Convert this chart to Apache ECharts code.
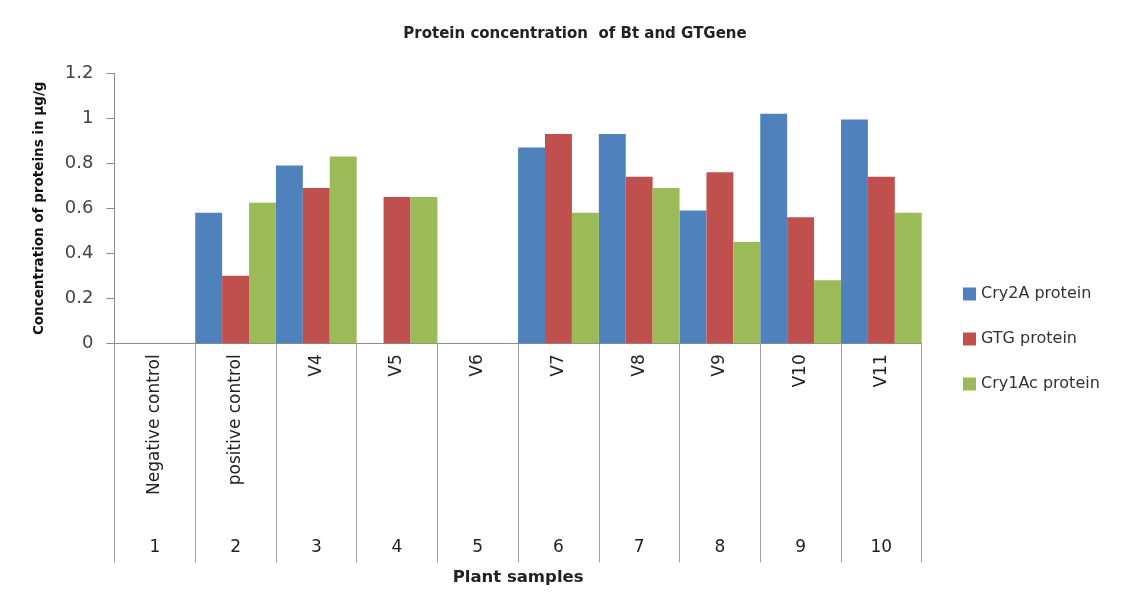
<!DOCTYPE html>
<html>
<head>
<meta charset="utf-8">
<script src="https://cdn.jsdelivr.net/npm/echarts@6/dist/echarts.min.js"></script>
<style>html,body{margin:0;padding:0;background:#fff}#c{width:1126px;height:593px}</style>
</head>
<body>
<div id="c"></div>
<script>
const categories = ['Negative control', 'positive control', 'V4', 'V5', 'V6', 'V7', 'V8', 'V9', 'V10', 'V11'];
const sampleNumbers = ['1', '2', '3', '4', '5', '6', '7', '8', '9', '10'];
const cry2A = [null, 0.58, 0.79, null, null, 0.87, 0.93, 0.59, 1.02, 0.995];
const gtg = [null, 0.30, 0.69, 0.65, null, 0.93, 0.74, 0.76, 0.56, 0.74];
const cry1Ac = [null, 0.625, 0.83, 0.65, null, 0.58, 0.69, 0.45, 0.28, 0.58];
const yTicks = { min: 0, max: 1.2, interval: 0.2 };

const chart = echarts.init(document.getElementById('c'));
const axisGrey = '#8c8c8c';
chart.setOption({
  animation: false,
  backgroundColor: '#ffffff',
  title: {
    text: 'Protein concentration  of Bt and GTGene',
    left: 570, top: 22, textAlign: 'center',
    textStyle: { fontFamily: 'DejaVu Sans', fontWeight: 'bold', fontSize: 15, color: '#222' }
  },
  legend: {
    orient: 'vertical',
    left: 958, top: 281,
    itemWidth: 13, itemHeight: 13, itemGap: 29,
    icon: 'rect',
    textStyle: { fontFamily: 'DejaVu Sans', fontSize: 16, color: '#333' },
    data: ['Cry2A protein', 'GTG protein', 'Cry1Ac protein']
  },
  grid: { left: 114.5, right: 204.3, top: 73.3, bottom: 249.7 },
  xAxis: [{
    type: 'category',
    data: categories,
    position: 'bottom',
    boundaryGap: true,
    axisLine: { lineStyle: { color: axisGrey } },
    axisTick: { show: true, length: 219, lineStyle: { color: '#a0a0a0' } },
    axisLabel: { rotate: 90, margin: 11, fontFamily: 'DejaVu Sans', fontSize: 17, color: '#222', interval: 0 },
    name: 'Plant samples',
    nameLocation: 'middle',
    nameGap: 226,
    nameTextStyle: { fontFamily: 'DejaVu Sans', fontWeight: 'bold', fontSize: 16.5, color: '#222' }
  }, {
    type: 'category',
    data: sampleNumbers,
    position: 'bottom',
    offset: 188,
    axisLine: { show: false },
    axisTick: { show: false },
    axisLabel: { margin: 8, fontFamily: 'DejaVu Sans', fontSize: 17, color: '#222', interval: 0 }
  }],
  yAxis: {
    type: 'value',
    min: yTicks.min, max: yTicks.max, interval: yTicks.interval,
    axisLine: { show: true, lineStyle: { color: axisGrey } },
    axisTick: { show: true, length: 8, lineStyle: { color: axisGrey } },
    splitLine: { show: false },
    axisLabel: { margin: 21, fontFamily: 'DejaVu Sans', fontSize: 18, color: '#444' },
    name: 'Concentration of proteins in μg/g',
    nameLocation: 'middle',
    nameGap: 68,
    nameTextStyle: { fontFamily: 'DejaVu Sans', fontWeight: 'bold', fontSize: 13.5, color: '#111' }
  },
  series: [
    { name: 'Cry2A protein', type: 'bar', data: cry2A, xAxisIndex: 0, barGap: '0%', barCategoryGap: '0%', itemStyle: { color: '#4F81BD' } },
    { name: 'GTG protein', type: 'bar', data: gtg, xAxisIndex: 0, barGap: '0%', barCategoryGap: '0%', itemStyle: { color: '#C0504D' } },
    { name: 'Cry1Ac protein', type: 'bar', data: cry1Ac, xAxisIndex: 0, barGap: '0%', barCategoryGap: '0%', itemStyle: { color: '#9BBB59' } }
  ]
});
</script>
</body>
</html>
